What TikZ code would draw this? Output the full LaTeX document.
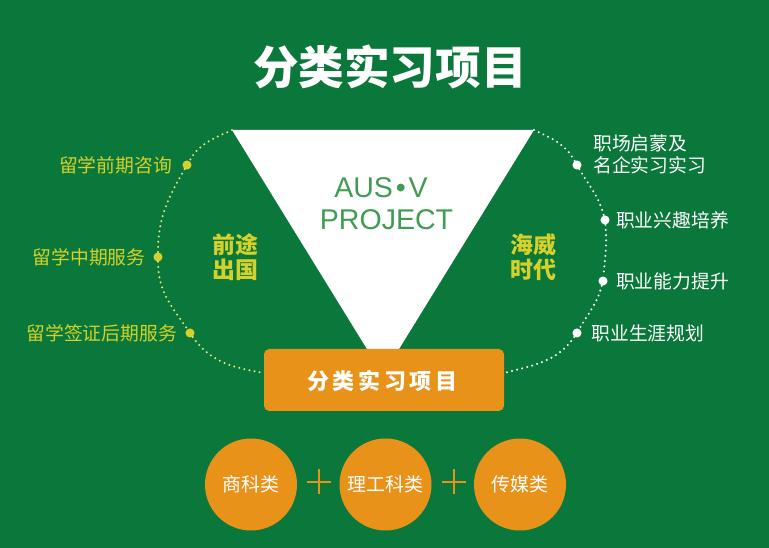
\documentclass[tikz,border=0pt]{standalone}
\usepackage{fontspec}
\setmainfont{Noto Sans CJK SC}
\newfontfamily\latinfont{Liberation Sans}
\usetikzlibrary{positioning}
\definecolor{bggreen}{HTML}{09783A}
\definecolor{boxorange}{HTML}{E8921A}
\definecolor{dotyellow}{HTML}{D5D02B}
\definecolor{latingreen}{HTML}{3F9C52}
\tikzset{
  arcyellow/.style={line width=1.7pt, line cap=round, dash pattern=on 0pt off 3.9pt, draw=dotyellow!60!white},
  arcwhite/.style={line width=1.7pt, line cap=round, dash pattern=on 0pt off 3.9pt, draw=white},
  yellowdot/.style={circle, fill=dotyellow, inner sep=0pt, minimum size=6.8pt},
  whitedot/.style={circle, fill=white, inner sep=0pt, minimum size=6.8pt},
  leftlabel/.style={text=dotyellow, font=\fontsize{14.1}{16.5}\selectfont, inner sep=0pt},
  rightlabel/.style={text=white, font=\fontsize{14.1}{16.5}\selectfont, inner sep=0pt},
  sidelabel/.style={text=dotyellow, font=\fontsize{17.2}{19}\bfseries\selectfont, align=center, inner sep=0pt},
  latinlabel/.style={text=latingreen, font=\latinfont\fontsize{21.4}{25}\selectfont, inner sep=0pt},
  catcircle/.style={circle, fill=boxorange, minimum size=69pt, inner sep=0pt, text=white, font=\fontsize{14.2}{16}\selectfont},
  plusbar/.style={draw=boxorange, line width=2.1pt}
}
\begin{document}
\begin{tikzpicture}[x=0.75pt, y=-0.75pt]
  \useasboundingbox (0,0) rectangle (769,548);
  \fill[bggreen] (0,0) rectangle (769,548);

  \node[text=white, font=\fontsize{34.2}{40}\bfseries\selectfont] (title) at (390,67) {分类实习项目};

  \coordinate (topleft) at (232,130);
  \coordinate (topright) at (534,130);
  \coordinate (apex) at (383,375);
  \fill[white] (topleft) -- (topright) -- (apex) -- cycle;
  \node[latinlabel] (aus) at (381,188) {AUS\kern.1em•\kern.1em V};
  \node[latinlabel] (project) at (386.5,220) {PROJECT};

  \node[fill=boxorange, rounded corners=4pt, minimum width=180pt, minimum height=46.5pt, inner sep=0pt] (mainbox) at (384,380) {};
  \node[text=white, font=\fontsize{16.5}{20}\bfseries\selectfont] (boxtext) at (382.5,381) {分\,类\,实\,习\,项\,目};

  % left arc
  \node[yellowdot] (l1) at (187,165) {};
  \node[yellowdot] (l2) at (158,257) {};
  \node[yellowdot] (l3) at (190,333) {};
  \draw[arcyellow] (topleft) to[out=205, in=60] (l1);
  \draw[arcyellow] (l1) to[out=240, in=90] (l2);
  \draw[arcyellow] (l2) to[out=270, in=125] (l3);
  \draw[arcyellow] (l3) to[out=305, in=170] (mainbox.west |- 0,373);

  % right arc
  \node[whitedot] (r1) at (577,165) {};
  \node[whitedot] (r2) at (605,220) {};
  \node[whitedot] (r3) at (603,281) {};
  \node[whitedot] (r4) at (577,333) {};
  \draw[arcwhite] (topright) to[out=-25, in=120] (r1);
  \draw[arcwhite] (r1) to[out=-60, in=105] (r2);
  \draw[arcwhite] (r2) to[out=-85, in=85] (r3);
  \draw[arcwhite] (r3) to[out=-105, in=60] (r4);
  \draw[arcwhite] (r4) to[out=-125, in=15] (mainbox.east |- 0,373);

  \node[leftlabel, left=7.5pt of l1] (lt1) {留学前期咨询};
  \node[leftlabel, left=5.5pt of l2] (lt2) {留学中期服务};
  \node[leftlabel, left=6pt of l3] (lt3) {留学签证后期服务};

  \node[rightlabel, align=left, anchor=west] (rt1) at (593,154) {职场启蒙及\\名企实习实习};
  \node[rightlabel, right=4.5pt of r2] (rt2) {职业兴趣培养};
  \node[rightlabel, right=6pt of r3] (rt3) {职业能力提升};
  \node[rightlabel, right=7pt of r4] (rt4) {职业生涯规划};

  \node[sidelabel] (qiantu) at (235,257) {前途\\出国};
  \node[sidelabel] (haiwei) at (533,257) {海威\\时代};

  \node[catcircle] (shang) at (251,484.5) {商科类};
  \node[catcircle] (ligong) at (385.5,484.5) {理工科类};
  \node[catcircle] (chuan) at (520,484.5) {传媒类};

  \draw[plusbar] (307,482) -- (331,482);
  \draw[plusbar] (319,469.5) -- (319,494);
  \draw[plusbar] (442,482) -- (466,482);
  \draw[plusbar] (454,469.5) -- (454,494);
\end{tikzpicture}
\end{document}
